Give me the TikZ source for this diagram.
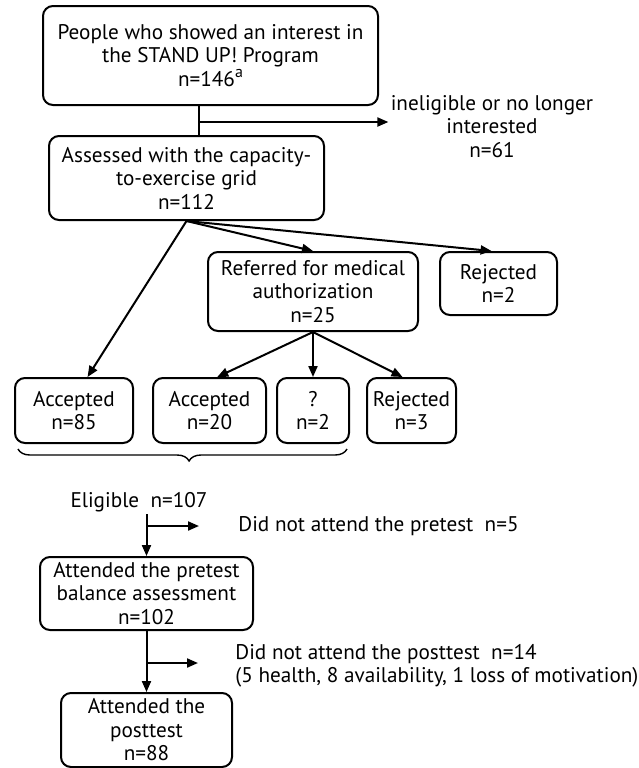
\documentclass[tikz,border=0pt]{standalone}
\usepackage{fontspec}
\setmainfont{PT Sans}
\usetikzlibrary{arrows.meta, calc, decorations.pathreplacing}

\begin{document}
\begin{tikzpicture}[x=0.5pt, y=-0.5pt, >={Triangle[length=5.5pt,width=4.5pt]},
    every node/.style={font=\fontsize{10.6}{11.75}\selectfont},
    flowbox/.style={draw, line width=1pt, rounded corners=5pt, align=center, inner sep=0pt},
    note/.style={align=center, inner sep=1pt},
    arr/.style={->, line width=1pt}]
    \useasboundingbox (0,0) rectangle (639,768);

    % Screening
    \node[flowbox, minimum width=167.5pt, minimum height=49.5pt] (interest) at (210.5,55.5) {People who showed an interest in\\the STAND UP! Program\\n=146\raisebox{0.42em}{\fontsize{8}{8}\selectfont a}};
    \node[note] (inelig) at (492,126.5) {ineligible or no longer\\interested\\n=61};
    \node[flowbox, minimum width=137.5pt, minimum height=42pt] (assess) at (186.5,178) {Assessed with the capacity-\\to-exercise grid\\n=112};

    % Outcomes of the grid
    \node[flowbox, minimum width=105pt, minimum height=39.5pt] (referred) at (313,291.5) {Referred for medical\\authorization\\n=25};
    \node[flowbox, minimum width=58.5pt, minimum height=31.5pt] (rejA) at (498.5,283.5) {Rejected\\n=2};
    \node[flowbox, minimum width=59pt, minimum height=32.5pt] (accA) at (74,410.5) {Accepted\\n=85};
    \node[flowbox, minimum width=56.5pt, minimum height=32.5pt] (accB) at (209.5,410.5) {Accepted\\n=20};
    \node[flowbox, minimum width=36pt, minimum height=32.5pt] (unk) at (313,410.5) {?\\n=2};
    \node[flowbox, minimum width=44.5pt, minimum height=32.5pt] (rejB) at (411.5,410.5) {Rejected\\n=3};

    % Testing
    \node[note] (elig) at (139,502) {Eligible~~n=107};
    \node[note, anchor=west] (nopre) at (236,526) {Did not attend the pretest~~n=5};
    \node[flowbox, minimum width=106.5pt, minimum height=36.5pt] (pretest) at (146.5,593.5) {Attended the pretest\\balance assessment\\n=102};
    \node[note, anchor=west, align=left] (nopost) at (233,666) {Did not attend the posttest~~n=14\\(5 health, 8 availability, 1 loss of motivation)};
    \node[flowbox, minimum width=85.5pt, minimum height=37pt] (posttest) at (146.5,730) {Attended the\\posttest\\n=88};

    \coordinate (split1) at (199,122);
    \coordinate (split2) at (146.5,526);
    \coordinate (split3) at (146.5,663);
    \coordinate (preend) at (199,526);
    \coordinate (postend) at (198,663);

    % Connectors
    \draw[line width=1pt] (interest.south -| split1) -- (assess.north -| split1);
    \draw[arr] (split1) -- (inelig.west |- split1);
    \draw[arr] (assess.south) -- (accA.68);
    \draw[arr] (assess.south) -- (referred.north);
    \draw[arr] (assess.south) -- (rejA.102);
    \draw[arr] (referred.south) -- (accB.77);
    \draw[arr] (referred.south) -- (unk.north);
    \draw[arr] (referred.south) -- (rejB.105);
    \draw[line width=0.7pt, decorate, decoration={brace, mirror, amplitude=6pt, aspect=0.52}] (18,449) -- (347,449);
    \draw[arr] (elig.south -| split2) -- (pretest.north);
    \draw[arr] (split2) -- (preend);
    \draw[arr] (pretest.south) -- (posttest.north);
    \draw[arr] (split3) -- (postend);
\end{tikzpicture}
\end{document}
